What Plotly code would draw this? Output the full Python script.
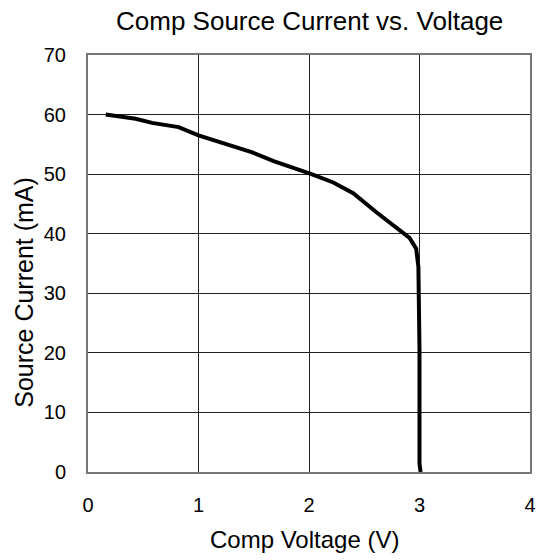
import plotly.graph_objects as go

voltage = [0.16, 0.43, 0.58, 0.82, 1.0, 1.26, 1.48, 1.68, 1.92, 2.01, 2.22, 2.40, 2.61,
           2.82, 2.91, 2.97, 2.99, 3.0, 3.0, 3.01]
current = [60.0, 59.3, 58.6, 57.9, 56.5, 55.0, 53.7, 52.2, 50.8, 50.1, 48.6, 46.8, 43.6,
           40.7, 39.3, 37.5, 34.4, 20.5, 1.4, 0.0]

fig = go.Figure()
fig.add_trace(go.Scatter(x=voltage, y=current, mode="lines",
                         line=dict(color="black", width=4), showlegend=False))

font = "Liberation Sans, Arial, sans-serif"
axis = dict(showgrid=True, gridcolor="#222222", gridwidth=1, zeroline=False,
            showline=True, linecolor="#777777", linewidth=2, mirror=True,
            ticks="", automargin=False,
            tickfont=dict(size=20, color="black", family=font))

fig.update_layout(
    width=544, height=560,
    margin=dict(l=88, r=14, t=55, b=88),
    paper_bgcolor="white", plot_bgcolor="white",
    xaxis=dict(axis, range=[0, 4], dtick=1, ticklabelstandoff=14),
    yaxis=dict(axis, range=[0, 70], dtick=10, ticklabelstandoff=16),
    annotations=[
        dict(text="Comp Source Current vs. Voltage", xref="paper", yref="paper",
             x=0.5, y=1.082, xanchor="center", yanchor="middle", showarrow=False,
             font=dict(size=26, color="black", family=font)),
        dict(text="Comp Voltage (V)", xref="paper", yref="paper",
             x=0.489, y=-0.163, xanchor="center", yanchor="middle", showarrow=False,
             font=dict(size=24, color="black", family=font)),
        dict(text="Source Current (mA)", xref="paper", yref="paper", textangle=-90,
             x=-0.145, y=0.432, xanchor="center", yanchor="middle", showarrow=False,
             font=dict(size=25, color="black", family=font)),
    ],
)

# the page body has a default 8px margin; drop it so the figure sits at 0,0
fig.write_html("out.html", config={"displayModeBar": False},
               post_script="document.body.style.margin='0';")
